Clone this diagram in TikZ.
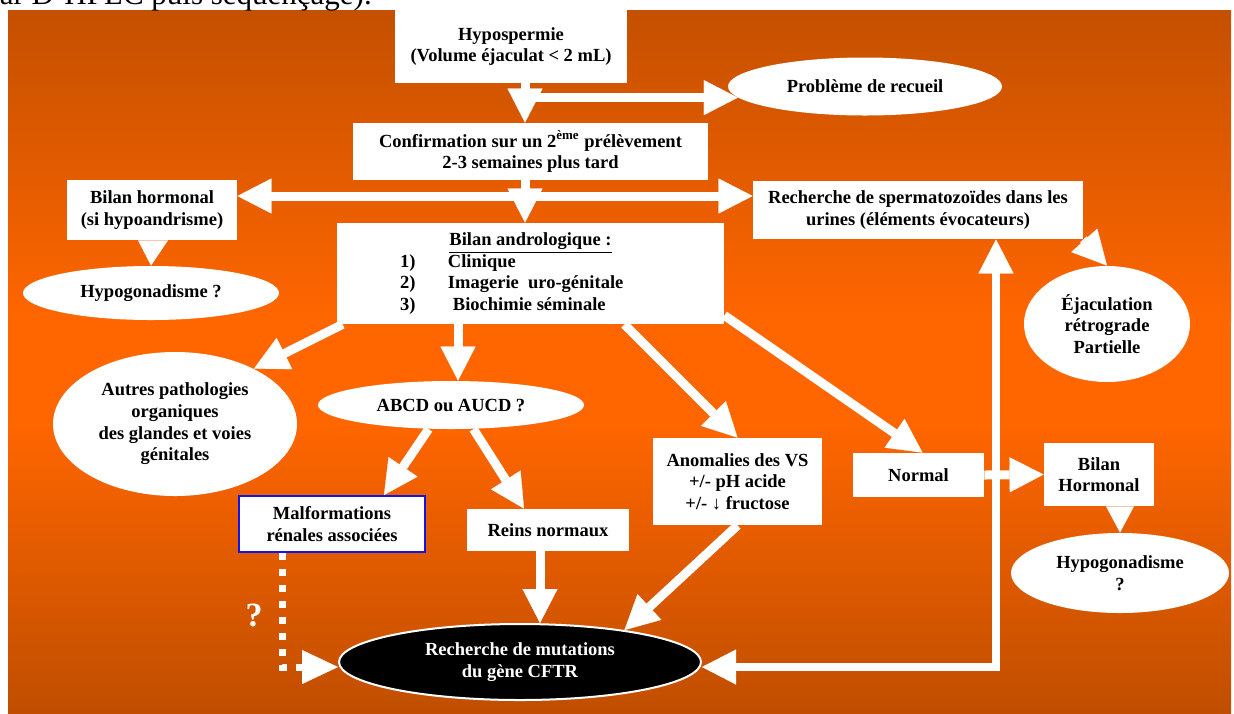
\documentclass[tikz,border=0pt]{standalone}
\usepackage{fontspec}
\setmainfont{Liberation Serif}
\usetikzlibrary{shapes.geometric,arrows.meta}
\definecolor{topc}{RGB}{196,80,0}
\definecolor{midc}{RGB}{255,102,0}
\definecolor{botc}{RGB}{192,78,0}
\definecolor{blueb}{RGB}{20,20,230}
\newcommand\dfont{\fontsize{9.25}{10.8}\selectfont\bfseries}
\tikzset{
  box/.style={rectangle, fill=white, inner sep=0pt, align=center, font=\dfont},
  ell/.style={ellipse, fill=white, inner sep=0pt, align=center, font=\dfont},
  barrow/.style={draw=white, line width=4.5pt, -{Triangle[width=17.5pt,length=17pt,line width=0.1pt]}},
  dbarrow/.style={draw=white, line width=4.5pt, {Triangle[width=17.5pt,length=17pt,line width=0.1pt]}-{Triangle[width=17.5pt,length=17pt,line width=0.1pt]}},
  dotarrow/.style={draw=white, line width=3.5pt, dash pattern=on 3.5pt off 4.5pt, -{Triangle[width=17pt,length=18pt,line width=0.1pt]}},
}
\begin{document}
\begin{tikzpicture}[x=0.5pt,y=-0.5pt]
\useasboundingbox (0,0) rectangle (1234,713);
% background
\shade[top color=topc, bottom color=midc] (8,10) rectangle (1231,321);
\fill[midc] (8,320) rectangle (1231,421);
\shade[top color=midc, bottom color=botc] (8,420) rectangle (1231,713);
% cropped text above
\node[anchor=base west, inner sep=0pt, font=\fontsize{15.5}{18}\selectfont] (toptxt) at (-16,4) {par D-HPLC puis séquençage).};
% coordinates
\coordinate (ax) at (525,0);
\coordinate (hy) at (0,196);
\coordinate (vx) at (458,0);
\coordinate (cx) at (540,0);
\coordinate (corner) at (996,667);
\coordinate (dcorner) at (282,667);
% nodes
\node[box, minimum width=116pt, minimum height=36.5pt] (hypo) at (511,46.5) {Hypospermie\\(Volume éjaculat < 2 mL)};
\node[ell, minimum width=137pt, minimum height=29pt] (probl) at (865,86.5) {Problème de recueil};
\node[box, minimum width=177.5pt, minimum height=28.5pt] (conf) at (530.5,151.5) {Confirmation sur un 2\textsuperscript{ème} prélèvement\\2-3 semaines plus tard};
\node[box, minimum width=85pt, minimum height=30pt] (bilanh) at (152,210) {Bilan hormonal\\(si hypoandrisme)};
\node[box, minimum width=165pt, minimum height=29pt] (rech) at (918,210) {Recherche de spermatozoïdes dans les\\urines (éléments évocateurs)};
\node[ell, minimum width=128pt, minimum height=27pt] (hypog) at (151,293) {Hypogonadisme ?};
\node[box, minimum width=193.5pt, minimum height=50.5pt] (bilana) at (530.5,273.5) {\underline{Bilan andrologique :}\\
\makebox[130.5pt][l]{\makebox[24pt][l]{1)}Clinique}\\
\makebox[130.5pt][l]{\makebox[24pt][l]{2)}Imagerie\ \ uro-génitale}\\
\makebox[130.5pt][l]{\makebox[26.5pt][l]{3)}Biochimie séminale}};
\node[ell, minimum width=83pt, minimum height=58pt] (ejac) at (1107,324) {Éjaculation\\rétrograde\\Partielle};
\node[ell, minimum width=122pt, minimum height=72pt] (autres) at (175,424) {Autres pathologies\\organiques\\des glandes et voies\\génitales};
\node[ell, minimum width=133pt, minimum height=24pt] (abcd) at (451,405) {ABCD ou AUCD ?};
\node[box, draw=blueb, line width=1pt, minimum width=93pt, minimum height=28pt] (malf) at (332,524) {Malformations\\rénales associées};
\node[box, minimum width=81pt, minimum height=21pt] (reins) at (548,530) {Reins normaux};
\node[box, minimum width=84.5pt, minimum height=43.5pt] (anom) at (737.5,481.5) {Anomalies des VS\\+/- pH acide\\+/- ↓ fructose};
\node[box, minimum width=65.5pt, minimum height=22pt] (normal) at (918.5,475) {Normal};
\node[box, minimum width=55pt, minimum height=31.5pt] (bilanH) at (1099,474.5) {Bilan\\Hormonal};
\node[ell, minimum width=109pt, minimum height=40pt] (hypog2) at (1120,573) {Hypogonadisme\\?};
\node[ell, fill=black, draw=white, line width=1pt, text=white, minimum width=181pt, minimum height=38pt] (cftr) at (520,662) {Recherche de mutations\\du gène CFTR};
\node[text=white, inner sep=0pt, font=\fontsize{17}{20}\selectfont\bfseries] (qm) at (254,615) {?};
% connectors
\draw[barrow] (hypo.south -| ax) -- (conf.north -| ax);
\draw[barrow] (ax |- probl.185) -- (probl.185);
\draw[barrow] (conf.south -| ax) -- (bilana.north -| ax);
\draw[dbarrow] (bilanh.east |- hy) -- (rech.west |- hy);
\fill[white] ([xshift=-7pt]bilanh.south) -- ([xshift=8pt]bilanh.south) -- (hypog.north) -- cycle;
\draw[barrow] (rech.south east) -- (ejac.north);
\draw[barrow] ([xshift=3pt]bilana.south west) -- (autres.35);
\draw[barrow] (bilana.south -| vx) -- (abcd.north -| vx);
\draw[barrow] ([xshift=47pt]bilana.south) -- (anom.north);
\draw[barrow] ([yshift=4.5pt]bilana.south east) -- ([xshift=2pt]normal.north);
\draw[barrow] (abcd.227) -- ([xshift=26pt]malf.north);
\draw[barrow] (abcd.313) -- ([xshift=-12pt]reins.north);
\draw[barrow] (reins.south -| cx) -- (cftr.north -| cx);
\draw[barrow] (anom.south) -- (cftr.17);
\draw[dbarrow, line width=4pt] (corner -| cftr.east) -- (corner) -- (rech.south -| corner);
\draw[barrow] (normal.east) -- (bilanH.west);
\fill[white] ([xshift=3.5pt]bilanH.south) -- ([xshift=17.5pt]bilanH.south) -- (hypog2.north) -- cycle;
\draw[dotarrow] ([xshift=-25pt]malf.south) -- (dcorner) -- (dcorner -| cftr.west);
\end{tikzpicture}
\end{document}
